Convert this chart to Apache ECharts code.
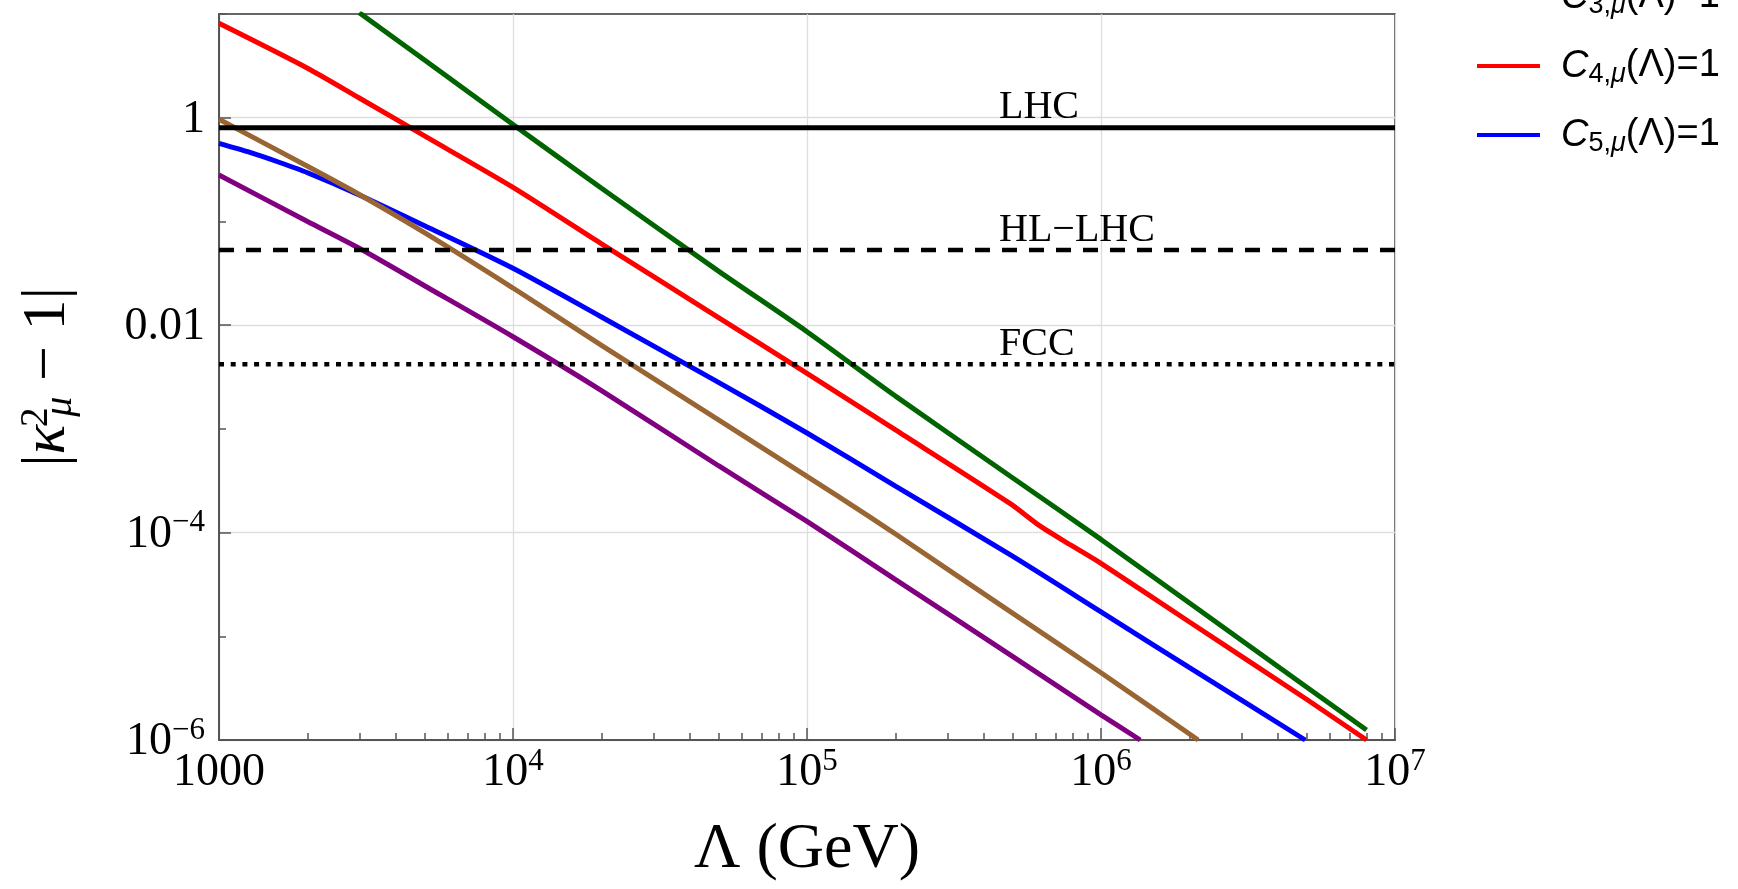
<!DOCTYPE html>
<html>
<head>
<meta charset="utf-8">
<title>|κ²μ − 1| vs Λ</title>
<script src="https://cdn.jsdelivr.net/npm/echarts@6/dist/echarts.min.js"></script>
<style>
    html, body { margin: 0; padding: 0; background: #fff; }
    #chart { width: 1738px; height: 889px; }
</style>
</head>
<body>
<div id="chart"></div>
<script>
    // Λ (GeV) and |κ²μ − 1|
    const greenX = [3000, 5000, 1e4, 2e4, 5e4, 1e5, 2e5, 5e5, 1e6, 2e6, 5e6, 8e6]
    const greenY = [10.3, 3.6, 0.861, 0.209, 0.0332, 0.00865, 0.00207, 3.38e-4, 8.59e-5, 2.09e-5, 3.24e-6, 1.25e-6]

    const redX = [1000, 2000, 3000, 5000, 1e4, 2e4, 5e4, 1e5, 2e5, 4.9e5, 6.25e5, 7.9e5, 1e6, 2e6, 5e6, 8e6]
    const redY = [8.13, 3.0, 1.55, 0.667, 0.213, 0.0608, 0.01183, 0.00343, 9.77e-4, 1.91e-4, 1.14e-4, 7.57e-5, 5.05e-5, 1.374e-5, 2.47e-6, 1.0e-6]

    const blueX = [1000, 1260, 1600, 2000, 3000, 5000, 1e4, 2e4, 5e4, 1e5, 2e5, 5e5, 1e6, 2e6, 4.95e6]
    const blueY = [0.566, 0.468, 0.372, 0.295, 0.180, 0.091, 0.0353, 0.01198, 0.00281, 9.12e-4, 2.81e-4, 5.92e-5, 1.72e-5, 4.98e-6, 1.0e-6]

    const brownX = [1000, 2000, 3000, 5000, 1e4, 2e4, 5e4, 1e5, 1.6e5, 2e5, 5e5, 1e6, 2.14e6]
    const brownY = [0.966, 0.340, 0.182, 0.078, 0.0228, 0.00637, 0.00122, 3.48e-4, 1.476e-4, 9.68e-5, 1.67e-5, 4.45e-6, 1.0e-6]

    const purpleX = [1000, 2000, 3000, 5000, 1e4, 2e4, 5e4, 1e5, 2e5, 5e5, 1e6, 1.36e6]
    const purpleY = [0.280, 0.100, 0.0551, 0.0240, 0.00773, 0.00234, 4.41e-4, 1.28e-4, 3.52e-5, 6.41e-6, 1.75e-6, 1.0e-6]

    // experimental reach (horizontal lines)
    const limitNames = ['LHC', 'HL−LHC', 'FCC']
    const limitValues = [0.8, 0.053, 0.0042]
    const limitLabelX = 4.5e5

    // axis ranges and tick values
    const xMin = 1000, xMax = 1e7
    const yMin = 1e-6, yMax = 10
    const yMajorTicks = [1e-6, 1e-4, 0.01, 1]
    const xMinorTicks = []
    for (let e = 3; e < 7; e++) {
        for (let m = 2; m < 10; m++) xMinorTicks.push(m * Math.pow(10, e))
    }

    const serif = '"Liberation Serif", "Times New Roman", serif'
    const sans = '"Liberation Sans", Arial, sans-serif'

    const pairs = (xs, ys) => xs.map((x, i) => [x, ys[i]])

    // 10^n as rich text
    const powRich = {
        b: { fontFamily: serif, fontSize: 46, lineHeight: 50, verticalAlign: 'bottom', color: '#000' },
        s: { fontFamily: serif, fontSize: 31, lineHeight: 30, verticalAlign: 'top', color: '#000' }
    }
    function expOf(v) {
        return Math.round(Math.log10(v))
    }
    function xLabel(v) {
        const e = expOf(v)
        if (e === 3) return '{b|1000}'
        return '{b|10}{s|' + e + '}'
    }
    function yLabel(v) {
        const e = expOf(v)
        if (e % 2 !== 0) return ''
        if (e === 0) return '{b|1}'
        if (e === -2) return '{b|0.01}'
        return '{b|10}{s|−' + (-e) + '}'
    }

    const legendText = {
        c3: '{c|C}{n|3,}{m|μ}{t|(Λ)=1}',
        c4: '{c|C}{n|4,}{m|μ}{t|(Λ)=1}',
        c5: '{c|C}{n|5,}{m|μ}{t|(Λ)=1}'
    }

    const curve = (name, color, xs, ys) => ({
        name: name,
        type: 'line',
        data: pairs(xs, ys),
        showSymbol: false,
        symbol: 'none',
        smooth: 0.25,
        itemStyle: { color: color },
        lineStyle: { color: color, width: 5 },
        z: 3
    })
    const limit = (i, dash, width) => ({
        name: limitNames[i],
        type: 'line',
        data: [[xMin, limitValues[i]], [xMax, limitValues[i]]],
        showSymbol: false,
        symbol: 'none',
        lineStyle: { color: '#000', width: width, type: dash },
        z: 4
    })

    const chart = echarts.init(document.getElementById('chart'))
    const option = {
        animation: false,
        backgroundColor: '#fff',
        grid: {
            left: 219,
            top: 14,
            width: 1176,
            height: 726,
            show: true,
            borderColor: '#333',
            borderWidth: 1.5
        },
        legend: {
            data: ['c3', 'c4', 'c5'],
            orient: 'vertical',
            left: 1477,
            top: -22,
            padding: 0,
            itemGap: 28,
            itemWidth: 63,
            itemHeight: 4,
            icon: 'rect',
            selectedMode: false,
            formatter: name => legendText[name],
            textStyle: {
                rich: {
                    c: { fontFamily: sans, fontStyle: 'italic', fontSize: 38, lineHeight: 44, padding: [0, 0, 0, 16], color: '#000' },
                    n: { fontFamily: sans, fontSize: 27, lineHeight: 36, verticalAlign: 'bottom', color: '#000' },
                    m: { fontFamily: sans, fontStyle: 'italic', fontSize: 27, lineHeight: 36, verticalAlign: 'bottom', color: '#000' },
                    t: { fontFamily: sans, fontSize: 38, lineHeight: 44, color: '#000' }
                }
            }
        },
        xAxis: [{
            type: 'log',
            logBase: 10,
            min: xMin,
            max: xMax,
            position: 'bottom',
            name: 'Λ (GeV)',
            nameLocation: 'middle',
            nameGap: 78,
            nameTextStyle: { fontFamily: serif, fontSize: 64, lineHeight: 64, color: '#000' },
            axisLine: { lineStyle: { color: '#555', width: 2 } },
            axisTick: { inside: true, length: 12, lineStyle: { color: '#555', width: 1.5 } },
            axisLabel: { margin: 6, formatter: xLabel, rich: powRich },
            splitLine: { show: true, lineStyle: { color: '#dedede', width: 1.3 } }
        }, {
            type: 'log',
            logBase: 10,
            min: xMin,
            max: xMax,
            position: 'bottom',
            axisLine: { show: false },
            axisTick: { inside: true, length: 7, customValues: xMinorTicks, lineStyle: { color: '#555', width: 1.5 } },
            axisLabel: { show: false },
            splitLine: { show: false }
        }],
        yAxis: [{
            type: 'log',
            logBase: 10,
            min: yMin,
            max: yMax,
            position: 'left',
            name: '{a||}{k|κ}{p|2}{q|μ}{a| − 1|}',
            nameLocation: 'middle',
            nameRotate: 90,
            nameGap: 139,
            nameTextStyle: {
                color: '#000',
                rich: {
                    a: { fontFamily: serif, fontSize: 62, lineHeight: 64, color: '#000' },
                    k: { fontFamily: serif, fontStyle: 'italic', fontSize: 62, lineHeight: 64, color: '#000' },
                    p: { fontFamily: serif, fontSize: 40, lineHeight: 30, width: 1, padding: [0, 0, 0, 7], verticalAlign: 'top', color: '#000' },
                    q: { fontFamily: serif, fontStyle: 'italic', fontSize: 40, lineHeight: 30, verticalAlign: 'bottom', color: '#000' }
                }
            },
            axisLine: { lineStyle: { color: '#555', width: 2 } },
            axisTick: { inside: true, length: 7, lineStyle: { color: '#555', width: 1.5 } },
            axisLabel: { margin: 14, formatter: yLabel, rich: powRich },
            splitLine: { show: false }
        }, {
            type: 'log',
            logBase: 10,
            min: yMin,
            max: yMax,
            position: 'left',
            axisLine: { show: false },
            axisTick: { inside: true, length: 12, customValues: yMajorTicks, lineStyle: { color: '#555', width: 1.5 } },
            axisLabel: { show: false },
            splitLine: { show: true, lineStyle: { color: '#dedede', width: 1.3 } }
        }],
        series: [
            curve('c3', '#006400', greenX, greenY),
            curve('c4', '#ff0000', redX, redY),
            curve('c5', '#0000ff', blueX, blueY),
            curve('brown', '#996633', brownX, brownY),
            curve('purple', '#800080', purpleX, purpleY),
            limit(0, 'solid', 5),
            limit(1, [15, 12], 4.5),
            limit(2, [5, 6.7], 4.5),
            {
                name: 'limit labels',
                type: 'scatter',
                data: limitNames.map((n, i) => [limitLabelX, limitValues[i], n]),
                symbolSize: 0,
                itemStyle: { color: '#000' },
                label: {
                    show: true,
                    formatter: p => p.data[2],
                    position: [0, 0],
                    align: 'left',
                    verticalAlign: 'bottom',
                    fontFamily: serif,
                    fontSize: 40,
                    lineHeight: 40,
                    color: '#000',
                    opacity: 1,
                    textBorderWidth: 0
                },
                z: 5
            }
        ]
    }
    chart.setOption(option)
</script>
</body>
</html>
